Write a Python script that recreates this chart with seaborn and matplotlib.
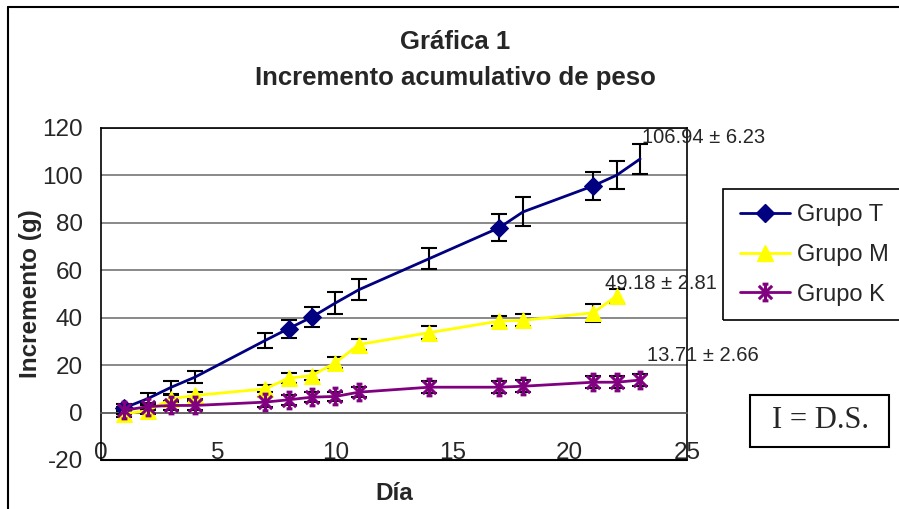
import matplotlib
matplotlib.use('Agg')

import numpy as np
import pandas as pd
import seaborn as sns
import matplotlib.pyplot as plt
from matplotlib.path import Path
from matplotlib.patches import Rectangle
from matplotlib.lines import Line2D

# values
dias_T = [1, 2, 3, 4, 7, 8, 9, 10, 11, 14, 17, 18, 21, 22, 23]
grupo_T = [2.0, 5.9, 10.7, 14.9, 30.4, 35.4, 40.3, 46.2, 51.8, 64.9, 78.0, 84.6, 95.6, 100.1, 106.94]
sd_T = [1.5, 2.5, 2.8, 2.5, 3.3, 3.8, 4.2, 4.5, 4.5, 4.4, 5.8, 6.1, 6.0, 5.8, 6.23]

dias_M = [1, 2, 3, 4, 7, 8, 9, 10, 11, 14, 17, 18, 21, 22]
grupo_M = [-0.5, 0.8, 5.8, 7.2, 10.0, 14.5, 15.6, 21.0, 28.7, 33.7, 38.6, 38.9, 42.1, 49.18]
sd_M = [1.2, 1.3, 1.5, 1.5, 1.5, 2.0, 2.0, 2.4, 2.4, 2.7, 2.0, 2.5, 3.8, 2.81]

dias_K = [1, 2, 3, 4, 7, 8, 9, 10, 11, 14, 17, 18, 21, 22, 23]
grupo_K = [1.0, 2.5, 3.0, 3.0, 4.4, 5.4, 6.5, 6.8, 8.6, 10.7, 10.7, 11.1, 12.8, 12.8, 13.71]
sd_K = [1.5, 1.5, 1.8, 1.8, 2.0, 2.0, 2.0, 2.0, 2.0, 2.5, 2.5, 2.5, 2.6, 2.6, 2.66]

etiquetas = ['106.94 ± 6.23', '49.18 ± 2.81', '13.71 ± 2.66']
y_ticks = [-20, 0, 20, 40, 60, 80, 100, 120]
x_ticks = [0, 5, 10, 15, 20, 25]

sns.set_style("white")
plt.rcParams['font.family'] = ['Liberation Sans', 'DejaVu Sans']
plt.rcParams['axes.unicode_minus'] = False

# Excel-like star marker: X with a vertical bar and small caps
star = Path([(0, -1), (0, 1), (-0.8, -0.8), (0.8, 0.8), (-0.8, 0.8), (0.8, -0.8),
             (-0.35, 1), (0.35, 1), (-0.35, -1), (0.35, -1)],
            [Path.MOVETO, Path.LINETO] * 5)

series = [
    ('Grupo T', dias_T, grupo_T, sd_T, '#000080', 'D', dict(markersize=9), [0, 5, 6, 10, 12]),
    ('Grupo M', dias_M, grupo_M, sd_M, '#FFFF00', '^', dict(markersize=11), None),
    ('Grupo K', dias_K, grupo_K, sd_K, '#800080', star, dict(markersize=12, markeredgewidth=2.2), None),
]


def main():
    fig = plt.figure(figsize=(8.99, 5.09), dpi=100)
    ax = fig.add_axes([101 / 899, 49 / 509, 586 / 899, 332 / 509])

    handles = []
    for name, x, y, sd, col, mk, mkw, every in series:
        df = pd.DataFrame({'Día': x, 'Incremento': y})
        ax.errorbar(x, y, yerr=sd, fmt='none', ecolor='black', elinewidth=1.5,
                    capsize=5.5, capthick=1.5, zorder=3)
        sns.lineplot(data=df, x='Día', y='Incremento', ax=ax, color=col, lw=2,
                     marker=mk, markevery=every, markeredgecolor=col,
                     markerfacecolor=col, zorder=4, **mkw)
        handles.append(Line2D([], [], color=col, lw=2, marker=mk,
                              markerfacecolor=col, markeredgecolor=col, **mkw))

    ax.set_xlim(0, 25)
    ax.set_ylim(-20, 120)
    ax.set_xticks(x_ticks)
    ax.set_yticks(y_ticks)
    ax.tick_params(axis='both', labelsize=17.5, direction='out', length=7, color='black')
    ax.tick_params(axis='y', pad=6)
    ax.tick_params(axis='x', pad=14)
    ax.yaxis.grid(True, color='#808080', lw=1.3)
    ax.set_axisbelow(True)

    for s in ax.spines.values():
        s.set_color('black')
        s.set_linewidth(1.2)
    ax.spines['bottom'].set_position(('data', 0))
    ax.spines['bottom'].set_color('#606060')
    ax.axhline(-20, color='black', lw=1.5, clip_on=False, zorder=5)

    ax.set_xlabel('Día', fontsize=17.5, fontweight='bold')
    ax.xaxis.set_label_coords(0.5, -0.1)
    ax.xaxis.label.set_va('center')
    ax.set_ylabel('Incremento (g)', fontsize=17.5, fontweight='bold')
    ax.yaxis.set_label_coords(-0.12, 0.5)
    ax.yaxis.label.set_va('center')

    # value labels at the last point of each series
    ax.text(23.1, 115.8, etiquetas[0], fontsize=14.5, va='center', clip_on=False)
    ax.text(21.5, 54.5, etiquetas[1], fontsize=14.5, va='center', clip_on=False)
    ax.text(23.3, 24.1, etiquetas[2], fontsize=14.5, va='center', clip_on=False)

    fig.text(455 / 899, 1 - 42 / 509, 'Gráfica 1', fontsize=18.5, fontweight='bold',
             ha='center', va='center')
    fig.text(455 / 899, 1 - 78 / 509, 'Incremento acumulativo de peso', fontsize=18.5,
             fontweight='bold', ha='center', va='center')

    # legend, its box runs off the right edge
    fig.patches.append(Rectangle((723 / 899, 1 - 320 / 509), 200 / 899, 131 / 509,
                                 transform=fig.transFigure, fill=False, ec='black', lw=1.2))
    fig.legend(handles, [s[0] for s in series], loc='upper left',
               bbox_to_anchor=(719 / 899, 1 - 183 / 509), frameon=False,
               fontsize=17, handlelength=2.1, labelspacing=0.75, handletextpad=0.3)

    # I = D.S. box
    fig.patches.append(Rectangle((750 / 899, 1 - 447 / 509), 139 / 899, 52 / 509,
                                 transform=fig.transFigure, fill=False, ec='black', lw=1.5))
    fig.text(820 / 899, 1 - 421 / 509, 'I = D.S.', fontsize=22, family='Liberation Serif',
             ha='center', va='center')

    # outer chart border (top and left only are visible)
    fig.add_artist(Line2D([8 / 899, 1], [1 - 7 / 509] * 2, transform=fig.transFigure,
                          color='black', lw=1.5))
    fig.add_artist(Line2D([8 / 899] * 2, [0, 1 - 7 / 509], transform=fig.transFigure,
                          color='black', lw=1.5))

    fig.savefig('out.png', dpi=100)


if __name__ == '__main__':
    main()
